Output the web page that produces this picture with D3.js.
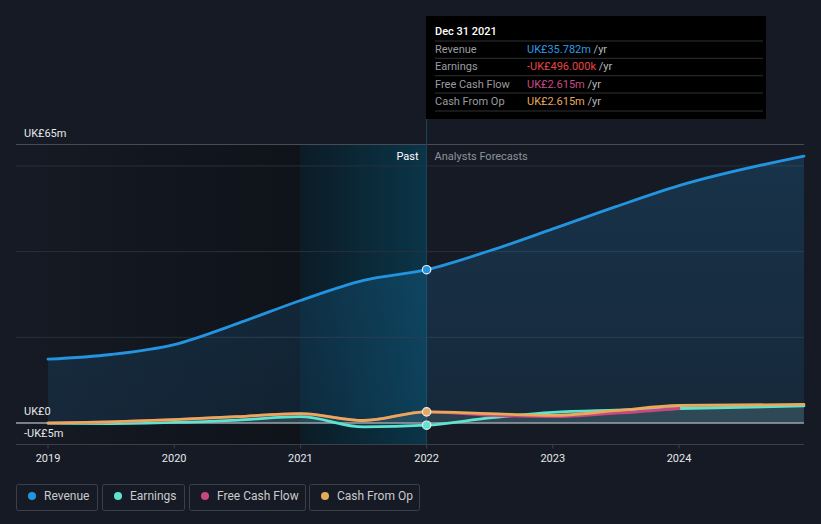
<!DOCTYPE html>
<html><head><meta charset="utf-8">
<script src="https://cdn.jsdelivr.net/npm/d3@7"></script>
<style>
html,body{margin:0;padding:0;background:#151a24;}
svg{display:block;font-family:Roboto,"Open Sans",sans-serif;}
</style></head>
<body>
<svg id="c" width="821" height="524"></svg>
<script>
// ---- data ----
const pastYears = [2019.0, 2019.5, 2020.0, 2020.5, 2021.0, 2021.5, 2022.0];
const pastRevenue = [14.9, 16.0, 18.3, 23.2, 28.6, 33.3, 35.782];
const pastEarnings = [0, -0.1, 0.15, 0.7, 1.5, -0.9, -0.496];
const pastFCF = [0, 0.3, 0.8, 1.5, 2.2, 0.6, 2.615];
const pastCFO = [0, 0.3, 0.8, 1.5, 2.2, 0.6, 2.615];

const fcYears = [2022.0, 2022.5, 2023.0, 2023.5, 2024.0, 2024.99];
const fcRevenue = [35.782, 40.2, 45.3, 50.5, 55.4, 62.3];
const fcEarnings = [-0.496, 1.2, 2.5, 3.0, 3.4, 4.0];
const fcFCFYears = [2022.0, 2022.5, 2023.0, 2023.5, 2024.0];
const fcFCF = [2.615, 1.8, 1.5, 2.3, 3.4];
const fcCFO = [2.615, 2.2, 1.8, 2.9, 4.1, 4.35];

const xTicks = [2019, 2020, 2021, 2022, 2023, 2024];
const yLabels = [{v:65,t:"UK£65m"},{v:0,t:"UK£0"},{v:-5,t:"-UK£5m"}];
const gridVals = [20, 40, 60];

const seriesNames = ["Revenue","Earnings","Free Cash Flow","Cash From Op"];
const colors = {"Revenue":"#2394df","Earnings":"#5fe3d1","Free Cash Flow":"#c9477f","Cash From Op":"#e8a95a"};
const tipTitle = "Dec 31 2021";
const tipValues = ["UK£35.782m","-UK£496.000k","UK£2.615m","UK£2.615m"];
const tipColors = ["#2a9be8","#e64545","#c84a8b","#e7a85b"];

(function(){
// ---- scales ----
const svg = d3.select("#c");
const x = d3.scaleLinear().domain([2019, 2024]).range([48, 679]);
const y = d3.scaleLinear().domain([-5, 65]).range([444.5, 144.5]);
const pLeft = 16, pRight = x(2024.99), pTop = y(65), pBottom = y(-5);

const defs = svg.append("defs");
const g1 = defs.append("linearGradient").attr("id","pastShade").attr("x1",0).attr("x2",1).attr("y1",0).attr("y2",0);
g1.append("stop").attr("offset","0%").attr("stop-color","#000").attr("stop-opacity",0.0);
g1.append("stop").attr("offset","100%").attr("stop-color","#000").attr("stop-opacity",0.3);
const g2 = defs.append("linearGradient").attr("id","band").attr("x1",0).attr("x2",1).attr("y1",0).attr("y2",0);
g2.append("stop").attr("offset","0%").attr("stop-color","#0b1c26").attr("stop-opacity",1);
g2.append("stop").attr("offset","100%").attr("stop-color","#0a3548").attr("stop-opacity",1);
const g3 = defs.append("linearGradient").attr("id","revFill").attr("x1",0).attr("x2",0).attr("y1",0).attr("y2",1);
g3.append("stop").attr("offset","0%").attr("stop-color","#2394df").attr("stop-opacity",0.2);
g3.append("stop").attr("offset","100%").attr("stop-color","#2394df").attr("stop-opacity",0.12);

// background regions
svg.append("rect").attr("x",pLeft).attr("y",pTop).attr("width",x(2021)-pLeft).attr("height",pBottom-pTop).attr("fill","url(#pastShade)");
svg.append("rect").attr("x",x(2021)).attr("y",pTop).attr("width",x(2022)-x(2021)).attr("height",pBottom-pTop).attr("fill","url(#band)");

// grid
svg.selectAll(".grid").data(gridVals).join("line")
  .attr("x1",pLeft).attr("x2",pRight).attr("y1",d=>y(d)).attr("y2",d=>y(d))
  .attr("stroke","#2a303a").attr("stroke-width",1);
svg.append("line").attr("x1",pLeft).attr("x2",pRight).attr("y1",y(65)).attr("y2",y(65)).attr("stroke","#474b53").attr("stroke-width",1);
svg.append("line").attr("x1",pLeft).attr("x2",pRight).attr("y1",y(-5)).attr("y2",y(-5)).attr("stroke","#3c4049").attr("stroke-width",1);

// vertical divider
svg.append("line").attr("x1",x(2022)).attr("x2",x(2022)).attr("y1",16).attr("y2",pBottom).attr("stroke","#1d4658").attr("stroke-width",1);

const pts = (xs, vs) => xs.map((d,i)=>[d, vs[i]]);
const line = d3.line().x(d=>x(d[0])).y(d=>y(d[1])).curve(d3.curveMonotoneX);
const area = d3.area().x(d=>x(d[0])).y0(y(0)).y1(d=>y(d[1])).curve(d3.curveMonotoneX);

const revAll = pts(pastYears, pastRevenue).concat(pts(fcYears, fcRevenue).slice(1));
const earnAll = pts(pastYears, pastEarnings).concat(pts(fcYears, fcEarnings).slice(1));
const cfoAll = pts(pastYears, pastCFO).concat(pts(fcYears, fcCFO).slice(1));
const fcfAll = pts(pastYears, pastFCF).concat(pts(fcFCFYears, fcFCF).slice(1));

// areas
svg.append("path").attr("d", area(revAll)).attr("fill","url(#revFill)");
svg.append("path").attr("d", area(cfoAll)).attr("fill","#9aa6a6").attr("opacity",0.16);
svg.append("path").attr("d", area(earnAll)).attr("fill","#5fe3d1").attr("opacity",0.07);

// zero line
svg.append("line").attr("x1",pLeft).attr("x2",pRight).attr("y1",y(0)).attr("y2",y(0)).attr("stroke","#9ea2a8").attr("stroke-width",1.6);

// lines
const drawLine = (data, c) => svg.append("path").attr("d", line(data)).attr("fill","none").attr("stroke",c).attr("stroke-width",2.8).attr("stroke-linecap","round");
drawLine(earnAll, colors["Earnings"]);
drawLine(fcfAll, colors["Free Cash Flow"]);
drawLine(cfoAll, colors["Cash From Op"]);
drawLine(revAll, colors["Revenue"]);

// markers at 2022
[[pastRevenue[6], colors["Revenue"]],[pastCFO[6], colors["Cash From Op"]],[pastEarnings[6], colors["Earnings"]]].forEach(([v,c])=>{
  svg.append("circle").attr("cx",x(2022)).attr("cy",y(v)).attr("r",4.2).attr("fill",c).attr("stroke","#e8eef2").attr("stroke-width",1.2);
});

// y labels
svg.selectAll(".yl").data(yLabels).join("text")
  .attr("x",24).attr("y",d=> d.v===-5 ? y(0)+14 : y(d.v)-8)
  .attr("fill","#e6e8ea").attr("font-size",11).text(d=>d.t);

// x axis
svg.selectAll(".xt").data(xTicks).join("line")
  .attr("x1",d=>x(d)).attr("x2",d=>x(d)).attr("y1",pBottom).attr("y2",pBottom+4).attr("stroke","#3c4049");
svg.selectAll(".xl").data(xTicks).join("text")
  .attr("x",d=>x(d)).attr("y",461.5).attr("text-anchor","middle").attr("fill","#e6e8ea").attr("font-size",11).text(d=>d);

// Past / forecast labels
svg.append("text").attr("x",x(2022)-8).attr("y",160).attr("text-anchor","end").attr("fill","#ffffff").attr("font-size",11).text("Past");
svg.append("text").attr("x",x(2022)+8).attr("y",160).attr("fill","#8d939b").attr("font-size",11).text("Analysts Forecasts");

// tooltip
const tip = svg.append("g");
tip.append("rect").attr("x",426).attr("y",16).attr("width",340).attr("height",103).attr("fill","#000");
tip.append("text").attr("x",435).attr("y",35).attr("fill","#fff").attr("font-size",11).attr("font-weight",500).text(tipTitle);
const sepY = [41, 58.3, 75.7, 93, 111];
tip.selectAll(".sep").data(sepY).join("line").attr("x1",435).attr("x2",763).attr("y1",d=>d).attr("y2",d=>d).attr("stroke","#2f3134").attr("stroke-width",1);
seriesNames.forEach((n,i)=>{
  const yy = 53 + i*17.4;
  tip.append("text").attr("x",435).attr("y",yy).attr("fill","#9a9ca0").attr("font-size",11).text(n);
  const t = tip.append("text").attr("x",527).attr("y",yy).attr("font-size",11);
  t.append("tspan").attr("fill",tipColors[i]).text(tipValues[i]);
  t.append("tspan").attr("fill","#b6b8bb").text(" /yr");
});

// legend
const legBoxes = [[16,81],[102,82],[189,116],[309,110]];
seriesNames.forEach((n,i)=>{
  const [bx,bw] = legBoxes[i];
  svg.append("rect").attr("x",bx+0.5).attr("y",484.5).attr("width",bw).attr("height",26).attr("rx",2).attr("fill","none").attr("stroke","#3a3f48");
  svg.append("circle").attr("cx",bx+16).attr("cy",496).attr("r",4).attr("fill",colors[n]);
  svg.append("text").attr("x",bx+28).attr("y",500).attr("fill","#c9cbce").attr("font-size",12).text(n);
});
})();
</script>
</body></html>
